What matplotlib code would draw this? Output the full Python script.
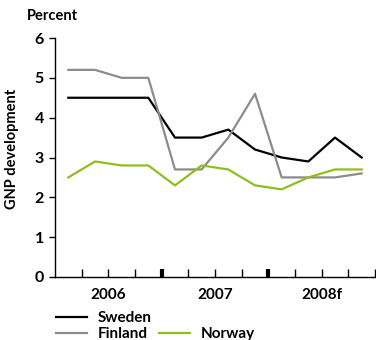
import matplotlib
matplotlib.use('Agg')
import matplotlib.pyplot as plt
from matplotlib.lines import Line2D

plt.rcParams['font.family'] = ['Lato', 'DejaVu Sans']

quarters = list(range(12))
years = ['2006', '2007', '2008f']

sweden = [4.5, 4.5, 4.5, 4.5, 3.5, 3.5, 3.7, 3.2, 3.0, 2.9, 3.5, 3.0]
finland = [5.2, 5.2, 5.0, 5.0, 2.7, 2.7, 3.5, 4.6, 2.5, 2.5, 2.5, 2.6]
norway = [2.5, 2.9, 2.8, 2.8, 2.3, 2.8, 2.7, 2.3, 2.2, 2.5, 2.7, 2.7]

c_swe = '#000000'
c_fin = '#8c8c8c'
c_nor = '#8fbf1f'

fig = plt.figure(figsize=(3.76, 3.40), dpi=100)
ax = fig.add_axes([55/376, 63/340, 320/376, 239/340])

x = [q + 0.5 for q in quarters]
ax.plot(x, sweden, color=c_swe, lw=1.6, label='Sweden')
ax.plot(x, finland, color=c_fin, lw=1.6, label='Finland')
ax.plot(x, norway, color=c_nor, lw=1.6, label='Norway')

ax.set_xlim(0, 12)
ax.set_ylim(0, 6)
ax.spines['top'].set_visible(False)
ax.spines['right'].set_visible(False)
ax.spines['left'].set_linewidth(1.0)
ax.spines['bottom'].set_linewidth(1.0)

ax.set_yticks(range(7))
ax.tick_params(axis='y', direction='out', length=4, width=1, pad=4, labelsize=11.5)
for lab in ax.get_yticklabels():
    lab.set_fontweight('bold')

# quarter ticks (thin) and year separators (thick), pointing up
ax.set_xticks([4, 8])
ax.set_xticks(range(1, 13), minor=True)
ax.tick_params(axis='x', which='major', direction='in', length=6, width=3, labelbottom=False)
ax.tick_params(axis='x', which='minor', direction='in', length=6, width=1)

sec = ax.secondary_xaxis('bottom')
sec.set_xticks([2, 6, 10])
sec.set_xticklabels(years, fontweight='bold', fontsize=11)
sec.tick_params(length=0, pad=8)
sec.spines['bottom'].set_visible(False)

fig.text(27/376, 1 - 16/340, 'Percent', fontsize=10.5, fontweight='bold', va='center', ha='left')
fig.text(12/376, 1 - 149/340, 'GNP development', fontsize=10.5, fontweight='bold',
         rotation=90, va='center', ha='center')

handles, labels = ax.get_legend_handles_labels()
blank = Line2D([], [], color='none')
fig.legend([handles[0], handles[1], blank, handles[2]],
           [labels[0], labels[1], '', labels[2]],
           ncol=2, loc='upper left', bbox_to_anchor=(50/376, 1 - 305/340),
           frameon=False, handlelength=2.0, handletextpad=0.7,
           columnspacing=0.5, labelspacing=0.15, borderaxespad=0,
           prop={'weight': 'bold', 'size': 11})

fig.savefig('out.png', dpi=100)
